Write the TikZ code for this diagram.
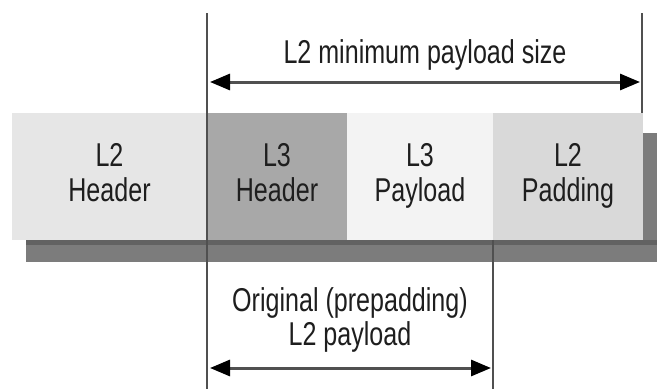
\documentclass[tikz,border=0pt]{standalone}
\usepackage{fontspec}
\setmainfont[FakeStretch=0.76]{Liberation Sans}
\usetikzlibrary{arrows.meta,positioning}
\definecolor{HdrGray}{HTML}{E6E6E6}
\definecolor{DarkGray}{HTML}{A8A8A8}
\definecolor{PayGray}{HTML}{F3F3F3}
\definecolor{PadGray}{HTML}{D9D9D9}
\definecolor{ShadowGray}{HTML}{7C7C7C}
\definecolor{LineGray}{HTML}{505050}
\definecolor{InkBlack}{HTML}{1E1E1E}

\tikzset{
  seg/.style={draw=none,outer sep=0pt,inner sep=0pt,minimum height=127pt,
    align=center,text=InkBlack,font=\fontsize{33}{35}\selectfont},
  lbl/.style={align=center,text=InkBlack,font=\fontsize{33}{34}\selectfont},
  dimline/.style={draw=LineGray,line width=2pt},
  dimarrow/.style={draw=LineGray,line width=3pt,
    {Triangle[length=20pt,width=16pt,color=black]}-{Triangle[length=20pt,width=16pt,color=black]}}
}

\begin{document}
\begin{tikzpicture}[x=1pt,y=-1pt]
  \useasboundingbox[fill=white] (0,0) rectangle (657,389);
  % drop shadow of the frame
  \fill[ShadowGray] (26,133) rectangle (657,262);
  \fill[gray!40!black,opacity=0.35] (26,240) rectangle (657,245);
  % frame fields
  \node[seg,fill=HdrGray,minimum width=195pt] (l2hdr) at (109.5,176.5) {L2\\Header\rule[-9pt]{0pt}{0pt}};
  \node[seg,fill=DarkGray,minimum width=140pt,right=0pt of l2hdr] (l3hdr) {L3\\Header\rule[-9pt]{0pt}{0pt}};
  \node[seg,fill=PayGray,minimum width=146pt,right=0pt of l3hdr] (l3pay) {L3\\Payload\rule[-9pt]{0pt}{0pt}};
  \node[seg,fill=PadGray,minimum width=150pt,right=0pt of l3pay] (l2pad) {L2\\Padding\rule[-9pt]{0pt}{0pt}};
  % extent marks
  \coordinate (minTop) at (207,13);
  \coordinate (minBot) at (207,389);
  \coordinate (padTop) at (642,13);
  \coordinate (padBot) at (642,113);
  \coordinate (origBot) at (493,389);
  \draw[dimline] (minTop) -- (minBot);
  \draw[dimline] (padTop) -- (padBot);
  \draw[dimline] (l3pay.south east) -- (origBot);
  % minimum payload
  \coordinate (minL) at (210,82);
  \coordinate (minR) at (640,82);
  \draw[dimarrow] (minL) -- (minR);
  \node[lbl,anchor=base] (minsize) at (425,63) {L2 minimum payload size};
  % original payload
  \coordinate (origL) at (210,368);
  \coordinate (origR) at (491,368);
  \draw[dimarrow] (origL) -- (origR);
  \node[lbl,anchor=base] (origsize) at (350,345) {Original (prepadding)\\L2 payload};
\end{tikzpicture}
\end{document}
